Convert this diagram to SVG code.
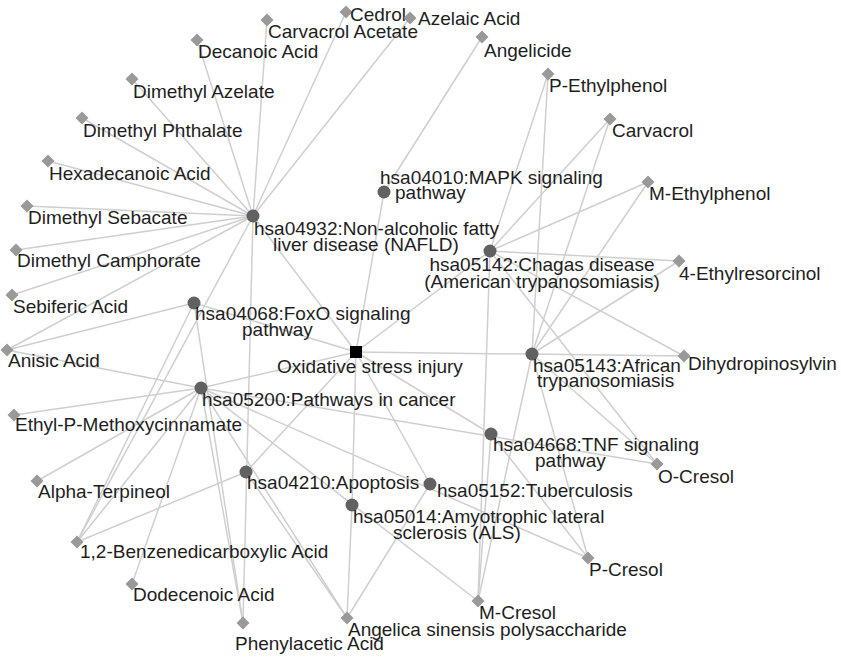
<svg xmlns="http://www.w3.org/2000/svg" xmlns:xlink="http://www.w3.org/1999/xlink" width="841" height="658" viewBox="0 0 841 658">
<style>
.e{stroke:#cfcfcf;stroke-width:1.5;fill:none}
.dm{fill:#999}
.pw{fill:#616161}
text{font-family:"Liberation Sans",Arial,sans-serif;font-size:19px;fill:#1e1e1e}
</style>
<defs>
<path id="d" d="M0,-6.5L6.5,0L0,6.5L-6.5,0Z"/>
</defs>
<rect width="841" height="658" fill="#fff"/>
<g id="edges">
<line class="e" x1="356" y1="352" x2="253" y2="216"/>
<line class="e" x1="356" y1="352" x2="384" y2="192"/>
<line class="e" x1="356" y1="352" x2="490" y2="251"/>
<line class="e" x1="356" y1="352" x2="194" y2="303"/>
<line class="e" x1="356" y1="352" x2="684" y2="356"/>
<line class="e" x1="356" y1="352" x2="201" y2="388"/>
<line class="e" x1="356" y1="352" x2="491" y2="434"/>
<line class="e" x1="356" y1="352" x2="246" y2="472"/>
<line class="e" x1="356" y1="352" x2="430" y2="484"/>
<line class="e" x1="356" y1="352" x2="352" y2="505"/>
<line class="e" x1="253" y1="216" x2="346" y2="12"/>
<line class="e" x1="253" y1="216" x2="410" y2="18"/>
<line class="e" x1="253" y1="216" x2="267" y2="20"/>
<line class="e" x1="253" y1="216" x2="197" y2="40"/>
<line class="e" x1="253" y1="216" x2="132" y2="79"/>
<line class="e" x1="253" y1="216" x2="82" y2="118"/>
<line class="e" x1="253" y1="216" x2="48" y2="161"/>
<line class="e" x1="253" y1="216" x2="27" y2="206"/>
<line class="e" x1="253" y1="216" x2="16" y2="250"/>
<line class="e" x1="253" y1="216" x2="12" y2="295"/>
<line class="e" x1="253" y1="216" x2="7" y2="350"/>
<line class="e" x1="253" y1="216" x2="77" y2="542"/>
<line class="e" x1="253" y1="216" x2="243" y2="623"/>
<line class="e" x1="384" y1="192" x2="482" y2="37"/>
<line class="e" x1="194" y1="303" x2="7" y2="350"/>
<line class="e" x1="194" y1="303" x2="77" y2="542"/>
<line class="e" x1="194" y1="303" x2="243" y2="623"/>
<line class="e" x1="490" y1="251" x2="548" y2="74"/>
<line class="e" x1="490" y1="251" x2="610" y2="119"/>
<line class="e" x1="490" y1="251" x2="648" y2="182"/>
<line class="e" x1="490" y1="251" x2="679" y2="261"/>
<line class="e" x1="490" y1="251" x2="684" y2="356"/>
<line class="e" x1="490" y1="251" x2="478" y2="601"/>
<line class="e" x1="490" y1="251" x2="657" y2="464"/>
<line class="e" x1="532" y1="354" x2="548" y2="74"/>
<line class="e" x1="532" y1="354" x2="610" y2="119"/>
<line class="e" x1="532" y1="354" x2="648" y2="182"/>
<line class="e" x1="532" y1="354" x2="679" y2="261"/>
<line class="e" x1="532" y1="354" x2="478" y2="601"/>
<line class="e" x1="532" y1="354" x2="657" y2="464"/>
<line class="e" x1="532" y1="354" x2="588" y2="558"/>
<line class="e" x1="201" y1="388" x2="7" y2="350"/>
<line class="e" x1="201" y1="388" x2="14" y2="415"/>
<line class="e" x1="201" y1="388" x2="37" y2="481"/>
<line class="e" x1="201" y1="388" x2="77" y2="542"/>
<line class="e" x1="201" y1="388" x2="132" y2="584"/>
<line class="e" x1="201" y1="388" x2="243" y2="623"/>
<line class="e" x1="201" y1="388" x2="347" y2="618"/>
<line class="e" x1="201" y1="388" x2="478" y2="601"/>
<line class="e" x1="201" y1="388" x2="588" y2="558"/>
<line class="e" x1="201" y1="388" x2="657" y2="464"/>
<line class="e" x1="491" y1="434" x2="588" y2="558"/>
<line class="e" x1="491" y1="434" x2="478" y2="601"/>
<line class="e" x1="246" y1="472" x2="77" y2="542"/>
<line class="e" x1="246" y1="472" x2="347" y2="618"/>
<line class="e" x1="430" y1="484" x2="347" y2="618"/>
<line class="e" x1="352" y1="505" x2="347" y2="618"/>
</g>
<g id="n-oxidative"><rect x="350" y="346" width="12" height="12" fill="#000"/><text x="277" y="373">Oxidative stress injury</text></g>
<g id="n-hsa04932"><circle class="pw" cx="253" cy="216" r="6.5"/><text x="254" y="235">hsa04932:Non-alcoholic fatty</text><text x="273" y="251">liver disease (NAFLD)</text></g>
<g id="n-hsa04010"><circle class="pw" cx="384" cy="192" r="6.5"/><text x="380" y="184">hsa04010:MAPK signaling</text><text x="395" y="199">pathway</text></g>
<g id="n-hsa05142"><circle class="pw" cx="490" cy="251" r="6.5"/><text x="542" y="271" text-anchor="middle">hsa05142:Chagas disease</text><text x="542" y="288" text-anchor="middle">(American trypanosomiasis)</text></g>
<g id="n-hsa04068"><circle class="pw" cx="194" cy="303" r="6.5"/><text x="195" y="320">hsa04068:FoxO signaling</text><text x="242" y="336">pathway</text></g>
<g id="n-hsa05143"><circle class="pw" cx="532" cy="354" r="6.5"/><text x="533" y="372">hsa05143:African</text><text x="537" y="387">trypanosomiasis</text></g>
<g id="n-hsa05200"><circle class="pw" cx="201" cy="388" r="6.5"/><text x="202" y="406">hsa05200:Pathways in cancer</text></g>
<g id="n-hsa04668"><circle class="pw" cx="491" cy="434" r="6.5"/><text x="493" y="451">hsa04668:TNF signaling</text><text x="535" y="467">pathway</text></g>
<g id="n-hsa04210"><circle class="pw" cx="246" cy="472" r="6.5"/><text x="247" y="489">hsa04210:Apoptosis</text></g>
<g id="n-hsa05152"><circle class="pw" cx="430" cy="484" r="6.5"/><text x="437" y="497">hsa05152:Tuberculosis</text></g>
<g id="n-hsa05014"><circle class="pw" cx="352" cy="505" r="6.5"/><text x="353" y="523">hsa05014:Amyotrophic lateral</text><text x="393" y="539">sclerosis (ALS)</text></g>
<g id="c-cedrol"><use href="#d" class="dm" x="346" y="12"/><text x="350" y="21">Cedrol</text></g>
<g id="c-azelaic"><use href="#d" class="dm" x="410" y="18"/><text x="418" y="25">Azelaic Acid</text></g>
<g id="c-carvacrol-acetate"><use href="#d" class="dm" x="267" y="20"/><text x="268" y="38">Carvacrol Acetate</text></g>
<g id="c-decanoic"><use href="#d" class="dm" x="197" y="40"/><text x="198" y="58">Decanoic Acid</text></g>
<g id="c-angelicide"><use href="#d" class="dm" x="482" y="37"/><text x="484" y="57">Angelicide</text></g>
<g id="c-dimethyl-azelate"><use href="#d" class="dm" x="132" y="79"/><text x="133" y="98">Dimethyl Azelate</text></g>
<g id="c-p-ethylphenol"><use href="#d" class="dm" x="548" y="74"/><text x="549" y="92">P-Ethylphenol</text></g>
<g id="c-dimethyl-phthalate"><use href="#d" class="dm" x="82" y="118"/><text x="83" y="137">Dimethyl Phthalate</text></g>
<g id="c-carvacrol"><use href="#d" class="dm" x="610" y="119"/><text x="612" y="137">Carvacrol</text></g>
<g id="c-hexadecanoic"><use href="#d" class="dm" x="48" y="161"/><text x="49" y="180">Hexadecanoic Acid</text></g>
<g id="c-m-ethylphenol"><use href="#d" class="dm" x="648" y="182"/><text x="649" y="200">M-Ethylphenol</text></g>
<g id="c-dimethyl-sebacate"><use href="#d" class="dm" x="27" y="206"/><text x="28" y="224">Dimethyl Sebacate</text></g>
<g id="c-4-ethylresorcinol"><use href="#d" class="dm" x="679" y="261"/><text x="679" y="280">4-Ethylresorcinol</text></g>
<g id="c-dimethyl-camphorate"><use href="#d" class="dm" x="16" y="250"/><text x="17" y="267">Dimethyl Camphorate</text></g>
<g id="c-sebiferic"><use href="#d" class="dm" x="12" y="295"/><text x="13" y="313">Sebiferic Acid</text></g>
<g id="c-anisic"><use href="#d" class="dm" x="7" y="350"/><text x="8" y="367">Anisic Acid</text></g>
<g id="c-dihydropinosylvin"><use href="#d" class="dm" x="684" y="356"/><text x="688" y="370">Dihydropinosylvin</text></g>
<g id="c-ethyl-p-methoxycinnamate"><use href="#d" class="dm" x="14" y="415"/><text x="15" y="431">Ethyl-P-Methoxycinnamate</text></g>
<g id="c-o-cresol"><use href="#d" class="dm" x="657" y="464"/><text x="658" y="483">O-Cresol</text></g>
<g id="c-alpha-terpineol"><use href="#d" class="dm" x="37" y="481"/><text x="38" y="498">Alpha-Terpineol</text></g>
<g id="c-benzenedicarboxylic"><use href="#d" class="dm" x="77" y="542"/><text x="80" y="558">1,2-Benzenedicarboxylic Acid</text></g>
<g id="c-p-cresol"><use href="#d" class="dm" x="588" y="558"/><text x="589" y="576">P-Cresol</text></g>
<g id="c-dodecenoic"><use href="#d" class="dm" x="132" y="584"/><text x="133" y="601">Dodecenoic Acid</text></g>
<g id="c-m-cresol"><use href="#d" class="dm" x="478" y="601"/><text x="479" y="619">M-Cresol</text></g>
<g id="c-phenylacetic"><use href="#d" class="dm" x="243" y="623"/><text x="235" y="650">Phenylacetic Acid</text></g>
<g id="c-angelica"><use href="#d" class="dm" x="347" y="618"/><text x="348" y="636">Angelica sinensis polysaccharide</text></g>
</svg>
